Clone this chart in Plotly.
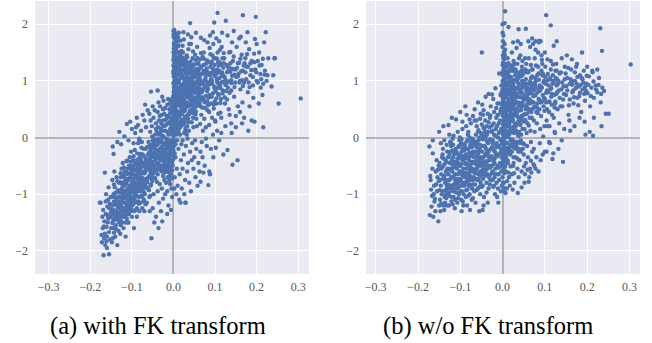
import plotly.graph_objects as go

# Scatter samples, stored as (x * 1000, y * 100) integer pairs.
# Panel (a): with FK transform
fk_wall = [(0,12),(1,35),(2,58),(0,74),(3,91),(1,108),(4,121),(2,136),(0,150),(5,163),(1,177),(3,186),(2,-8),(0,-22),(6,5),(1,22),(4,44),(0,63),(7,82),(2,99),(0,117),(3,129),(5,142),(1,157),(8,170),(0,181),(2,47),(4,70),(1,88),(6,103),(0,127),(3,145),(9,60),(2,18),(5,31),(0,41),(3,53),(7,66),(1,79),(4,95),(0,113),(6,133),(2,148),(8,118),(1,-15),(10,40),(3,-28),(0,96),(5,112),(2,123),(7,139),(1,166),(4,155),(9,88),(0,29),(6,50),(3,72),(2,84),(8,27),(0,55),(5,77),(1,140),(7,101),(3,160),(10,115),(0,188),(4,176),(2,190),(6,158),(1,52),(9,132),(3,10),(8,74),(0,-3),(5,-12),(2,66),(7,34),(4,24),(1,4),(6,121),(3,107),(0,137),(5,93),(2,111),(8,152),(4,182),(1,126),(7,57),(10,97),(3,38)]
fk_core = [(12,45),(15,72),(11,98),(18,20),(14,115),(17,61),(13,133),(19,84),(16,5),(12,150),(15,38),(18,106),(11,126),(14,57),(20,92),(13,14),(17,143),(19,31),(16,78),(12,163),(15,120),(18,69),(11,177),(14,102),(20,48),(17,89),(13,67),(16,131),(19,112),(12,26),
    (22,55),(25,81),(21,110),(28,36),(24,95),(27,64),(23,128),(29,15),(26,47),(22,140),(25,23),(28,99),(21,74),(24,118),(30,58),(27,137),(23,88),(26,8),(29,76),(22,162),(25,104),(28,125),(21,42),(24,69),(30,113),(27,28),(23,150),(26,93),(29,52),(22,-5),(25,173),(28,82),(24,186),(30,135),
    (32,62),(35,90),(31,117),(38,41),(34,75),(37,103),(33,20),(39,128),(36,55),(32,145),(35,33),(38,85),(31,96),(34,131),(40,67),(37,12),(33,108),(36,156),(39,47),(32,80),(35,122),(38,165),(31,38),(34,100),(40,115),(37,72),(33,142),(36,27),(39,92),(35,182),(32,5),
    (42,78),(45,56),(41,103),(48,91),(44,124),(47,35),(43,66),(49,116),(46,140),(42,48),(45,98),(48,18),(41,134),(44,85),(50,60),(47,152),(43,112),(46,72),(49,43),(42,165),(45,126),(48,106),(44,27),(50,95),(47,83),(43,177),(46,118),(41,58),
    (52,88),(55,70),(51,112),(58,101),(54,46),(57,130),(53,64),(59,83),(56,121),(52,146),(55,33),(58,57),(51,94),(54,108),(60,76),(57,160),(53,137),(56,20),(59,117),(52,68),(55,98),(58,140),(54,185),(56,80),(60,104)]
fk_dense = [(3,17),(6,39),(9,63),(4,87),(7,109),(2,131),(5,149),(8,21),(11,43),(14,67),(17,93),(20,119),(23,141),(26,33),(29,57),(1,81),(4,103),(7,127),(10,15),(13,37),(16,59),(19,85),(22,107),(25,133),(28,11),(3,49),(6,71),(9,97),(12,123),(15,147),(18,27),(21,51),(24,77),(27,101),(30,129),(2,7),(5,57),(8,83),(11,111),(14,139),(17,19),(20,41),(23,65),(26,89),(29,117),(1,143),(4,13),(7,45),(10,73),(13,99),(16,121),(19,153),(22,31),(25,61),(28,87),(6,117),(9,141),(12,9),(15,25),(18,53),(21,79),(24,105),(27,121),(3,135),(11,161),(16,171),(5,170),(8,180),(2,161),(13,185),(20,135),(24,53),(27,47),(1,69),(9,33),(18,127),(6,89),(14,79),(22,91),(29,97),
    (33,35),(37,59),(41,83),(45,107),(49,129),(53,41),(57,63),(61,87),(65,111),(69,53),(31,71),(35,105),(39,121),(43,45),(47,69),(51,79),(55,117),(59,95),(63,61),(67,125),(32,93),(36,41),(40,99),(44,63),(48,127),(52,53),(56,99),(60,131),(64,81),(68,99),(34,113),(38,71),(42,93),(46,49),(50,109),(54,87),(58,73),(62,109),(66,67),(70,83),(36,85),(44,101),(52,119),(60,57),(38,131),(46,89),(54,63),(62,75),(42,121),(58,113),
    (-3,-13),(-7,7),(-11,-31),(-15,-3),(-19,-23),(-23,-43),(-27,3),(-31,-27),(-35,-53),(-39,-13),(-43,-33),(-47,-3),(-51,-43),(-55,-23),(-59,-47),(-5,-51),(-9,-27),(-13,-47),(-17,-9),(-21,-33),(-25,-57),(-29,-17),(-33,-37),(-37,-3),(-41,-47),(-45,-31),(-49,-53),(-53,-13),(-57,-33),(-1,-39),(-8,43),(-14,25),(-20,31),(-26,21),(-32,9),(-4,11),(-12,-61),(-24,-21),(-36,-23),(-46,-15),
    (-129,-113),(-125,-97),(-121,-137),(-117,-77),(-113,-93),(-109,-129),(-105,-63),(-101,-97),(-97,-117),(-93,-67),(-89,-103),(-85,-53),(-81,-93),(-77,-61),(-73,-83),(-69,-47),(-65,-73),(-61,-51),(-57,-67),(-53,-57),(-127,-147),(-123,-83),(-119,-107),(-115,-123),(-111,-73),(-107,-101),(-103,-115),(-99,-73),(-95,-97),(-91,-57),(-87,-85),(-83,-117),(-79,-47),(-75,-77),(-71,-97),(-67,-37),(-63,-79),(-59,-93),(-55,-61),(-51,-77),(-131,-97),(-135,-121),(-139,-141),(-143,-113),(-147,-151),(-151,-133),(-155,-167),(-159,-137),(-163,-113),(-167,-157),(-126,-117),(-118,-131),(-110,-55),(-102,-87),(-94,-107),(-86,-73),(-78,-103),(-70,-63),(-62,-43),(-54,-83),(-122,-103),(-114,-61),(-106,-97),(-98,-53),(-90,-113),(-82,-63),(-74,-45),(-66,-87),(-58,-27),(-50,-47),(-128,-79),(-120,-67),(-112,-143),(-104,-109),(-96,-33),(-88,-65),(-80,-43),(-72,-113),(-64,-17),(-56,-103),
    (73,67),(77,89),(81,111),(85,133),(89,73),(93,95),(97,117),(101,81),(105,103),(109,127),(113,87),(117,109),(121,131),(125,93),(129,115),(133,99),(137,131),(141,109),(145,143),(149,97),(153,123),(157,113),(161,139),(165,101),(169,127),(173,115),(177,147),(181,97),(185,131),(189,119),(75,113),(83,57),(91,131),(99,63),(107,77),(115,97),(123,71),(131,125),(139,83),(147,111),
    (63,83),(67,97),(71,71),(75,101),(79,117),(83,93),(87,75),(91,103),(95,121),(99,87),(103,69),(107,115),(111,91),(115,113),(119,83),(123,107),(127,95),(131,117),(135,79),(139,101),(143,121),(147,89),(151,107),(155,131),(159,97),(163,117),(167,91),(171,131),(175,103),(179,125),(183,89),(187,119),(191,107),(195,133),(199,115),(203,97),(207,127),(211,103),(215,139),(219,111),(65,125),(73,139),(81,63),(89,147),(97,51),(105,139),(113,61),(121,149),(129,67),(137,151),
    (-161,-183),(-157,-143),(-153,-117),(-149,-127),(-145,-147),(-141,-105),(-137,-137),(-133,-93),(-129,-147),(-125,-123),(-121,-95),(-117,-139),(-113,-81),(-109,-113),(-105,-93),(-101,-127),(-97,-79),(-93,-103),(-89,-71),(-85,-113),(-81,-73),(-77,-93),(-73,-51),(-69,-83),(-65,-57),(-61,-71),(-57,-39),(-53,-73),(-49,-29),(-45,-57),(-139,-117),(-131,-133),(-123,-113),(-115,-103),(-107,-123),(-99,-89),(-91,-81),(-83,-57),(-75,-63),(-67,-53),(-143,-83),(-135,-77),(-127,-63),(-119,-53),(-111,-41),(-103,-43),(-95,-49),(-87,-39),(-79,-29),(-71,-33)]
fk_right = [(62,92),(65,55),(61,120),(68,80),(64,138),(67,40),(63,104),(69,67),(66,149),(70,95),(72,118),(75,62),(71,86),(78,130),(74,33),(77,105),(73,150),(79,74),(76,92),(80,122),(82,48),(85,97),(81,136),(88,110),(84,70),(87,158),(83,86),(89,125),(86,22),(90,102),(92,134),(95,78),(91,114),(98,90),(94,145),(97,58),(93,100),(99,128),(96,165),(100,108),(102,85),(105,120),(101,140),(108,96),(104,60),(107,132),(103,112),(109,75),(106,150),(110,118),(112,92),(115,128),(111,105),(118,140),(114,68),(117,115),(113,44),(119,98),(116,160),(120,123),(64,24),(71,12),(78,18),(86,45),(93,35),(101,28),(108,42),(115,8),(66,176),(74,172),(82,168),(88,180),(95,186),(103,175),(110,170),(117,185),(63,70),(68,112),(73,128),(79,99),(84,115),(90,60),(97,140),(104,88),(111,133),(118,78),(70,142),(76,52),(81,82),(87,94),(92,72),(99,110),(105,98),(112,155),(119,110),
    (122,140),(125,102),(128,128),(131,88),(134,150),(137,116),(140,96),(143,135),(146,72),(149,120),(152,160),(155,108),(158,132),(161,85),(164,146),(167,118),(170,97),(173,140),(176,125),(179,80),(182,156),(185,110),(188,135),(191,92),(194,148),(197,120),(200,100),(203,135),(206,150),(209,112),(212,128),(216,95),(220,118),(224,100),(228,140),(124,60),(133,50),(141,168),(150,38),(158,175),(166,62),(174,168),(183,55),(192,70),(200,165),(210,88),(218,168),(226,110),(130,180),(145,188),(162,178),(178,186),(196,174),(236,90),(243,140),(240,110),(214,75),(205,60),(188,30),(170,35),(155,55),(139,25),(127,82),(222,186),
    (106,220),(167,216),(198,213),(98,203),(40,202),(126,206),(306,69),(253,60),(244,140),(216,18),(154,-40),(138,122),(160,100),
    (95,5),(105,12),(125,20),(140,8),(150,18),(165,25),(180,12),(195,28),(100,30),(115,35),(135,40),(160,45)]
fk_mid = [(-5,-20),(-12,5),(-3,-45),(-18,-30),(-8,15),(-25,-10),(-2,30),(-15,-55),(-30,-40),(-6,-65),(-22,20),(-10,-35),(-35,5),(-28,-60),(-4,-5),(-40,-25),(-16,38),(-45,-50),(-9,-15),(-50,-5),(-20,-48),(-32,-20),(-14,-70),(-55,-35),(-26,12),(-38,-65),(-7,8),(-48,-18),(-19,-2),(-42,15),(-3,-58),(-58,-55),(-24,-35),(-11,-52),(-36,-45),(-52,-28),(-29,25),(-17,-18),(-44,-40),(-2,-32),(-33,-8),(-56,10),(-21,-62),(-13,-28),(-47,-62),(-6,22),(-39,-32),(-27,-50),(-53,-45),(-10,-8),(-31,-58),(-23,-25),(-58,-15),(-15,10),(-41,-5),(-4,-42),(-49,-35),(-35,-28),(-8,-55),(-25,-68),(-18,-40),(-44,-12),(-1,-25),(-30,-2),(-54,-60),(-12,-45),(-37,18),(-20,-12),(-46,-48),(-9,-68),(-28,-30),(-51,2),(-16,-60),(-33,-52),(-5,-10),(-42,-38),(-24,2),(-57,-40),(-14,-38),(-39,-55),(-7,-30),(-27,-16),(-50,-68),(-22,-42),(-3,5),(-45,-25),(-11,-20),(-34,-35),(-19,-50),(-55,-18),(-30,-50),(-8,-40),(-48,-8),(-26,-28),(-13,-5),(-41,-58),(-2,-50),(-36,-10),(-17,-32),(-60,-30),(-23,-55),(-6,-22),(-43,-20),(-31,-38),(-15,-12),(-52,-52),(-10,-60),(-28,-8),
    (-5,45),(-12,38),(-3,62),(-20,52),(-8,28),(-28,40),(-15,58),(-35,30),(-2,70),(-24,65),(-42,25),(-10,50),(-32,55),(-18,22),(-48,35),(-6,35),(-26,30),(-38,45),(-13,68),(-52,20),(-4,55),(-22,42),(-45,48),(-30,15),(-9,60),(-55,30),(-16,33),(-36,62),(-1,48),(-40,10),(-58,42),(-27,72),(-11,25),(-33,38),(-7,66),(-50,55),(-19,12),(-44,5),(-3,18),(-25,50),
    (-54,81),(-38,83),(-112,24),(-146,-16),(-144,-29),(-62,48),(-70,30),(-78,12),(-85,22),(-92,8),(-100,15),(-108,-5),(-118,2),(-126,-12),(-135,-8),(-66,18),(-74,40),(-82,-2),(-88,35),(-96,-10),(-104,28),(-68,58),(-76,-8),(-90,18),(-130,10),
    (5,-35),(12,-20),(8,-55),(18,-40),(3,-70),(15,-65),(25,-30),(10,-85),(22,-55),(30,-15),(7,-100),(28,-75),(35,-45),(20,-90),(40,-25),(14,-110),(33,-60),(45,-10),(26,-100),(50,-35),(2,-90),(38,-80),(55,-20),(17,-115),(48,-55),(60,-45),(29,-115),(65,-25),(53,-70),(70,-35),(42,-95),(75,-50),(58,-85),(80,-15),(63,-60),(86,-60),(88,-65),(84,-84),(44,-40),(9,-5),(19,-12),(34,-2),(52,-5),(68,-8),(78,-2),(90,-20),(96,-35),(102,-18),(110,-5),(120,-30),(130,-22),(142,-48),(65,-78),(72,-62),(29,-115)]
fk_low = [(-168,-208),(-155,-206),(-172,-185),(-160,-195),(-165,-170),(-152,-180),(-170,-160),(-158,-150),(-163,-135),(-175,-115),(-154,-125),(-166,-148),(-160,-175),(-150,-160),(-169,-128),(-157,-110),(-162,-100),(-153,-140),(-171,-140),(-164,-190),(-156,-88),(-151,-105),(-177,-115),(-167,-178),(-159,-122),(-165,-62),(-173,-172),(-161,-158),
    (-148,-185),(-140,-175),(-135,-190),(-145,-160),(-132,-165),(-142,-145),(-138,-130),(-146,-120),(-131,-150),(-144,-100),(-136,-110),(-149,-140),(-141,-88),(-133,-125),(-147,-75),(-139,-155),(-134,-95),(-143,-168),(-137,-70),(-130,-135),(-145,-135),(-140,-115),(-132,-105),(-148,-105),(-136,-145),(-142,-60),(-131,-80),(-146,-178),(-138,-162),(-134,-118),(-144,-128),(-140,-98),(-133,-142),
    (-128,-170),(-120,-160),(-115,-150),(-125,-140),(-112,-135),(-122,-125),(-118,-115),(-126,-105),(-111,-120),(-124,-90),(-116,-95),(-129,-120),(-121,-80),(-113,-105),(-127,-70),(-119,-140),(-114,-78),(-123,-150),(-117,-60),(-110,-90),(-125,-55),(-120,-100),(-112,-65),(-128,-95),(-116,-130),(-122,-45),(-111,-150),(-126,-130),(-118,-85),(-114,-115),(-124,-112),(-120,-130),(-113,-42),(-127,-155),(-110,-110),(-119,-70),(-115,-175),(-123,-65),
    (-108,-150),(-100,-140),(-95,-130),(-105,-120),(-92,-115),(-102,-105),(-98,-95),(-106,-85),(-91,-100),(-104,-70),(-96,-75),(-109,-100),(-101,-60),(-93,-85),(-107,-50),(-99,-120),(-94,-58),(-103,-130),(-97,-40),(-90,-70),(-105,-35),(-100,-80),(-92,-45),(-108,-75),(-96,-110),(-102,-25),(-91,-128),(-106,-110),(-98,-65),(-94,-95),(-104,-92),(-100,-108),(-93,-22),(-107,-135),(-90,-90),(-99,-50),(-95,-160),(-103,-55),
    (-88,-125),(-80,-115),(-75,-105),(-85,-95),(-72,-90),(-82,-80),(-78,-70),(-86,-60),(-71,-75),(-84,-45),(-76,-50),(-89,-80),(-81,-35),(-73,-60),(-87,-28),(-79,-95),(-74,-30),(-83,-105),(-77,-18),(-70,-45),(-85,-10),(-80,-55),(-72,-20),(-88,-50),(-76,-85),(-82,-5),(-71,-110),(-86,-88),(-78,-40),(-74,-72),(-84,-70),(-80,-85),(-68,-62),(-65,-40),(-62,-90),(-66,-20),(-63,-55),(-69,-100),(-64,-75),(-61,-30),(-67,-118),(-60,-8),(-88,-140),(-82,-130),(-75,-125),(-70,-130),(-64,-115),
    (-55,-85),(-48,-100),(-40,-78),(-35,-115),(-28,-90),(-22,-75),(-15,-95),(-8,-82),(-3,-105),(-50,-125),(-44,-72),(-38,-95),(-30,-130),(-25,-108),(-18,-80),(-12,-120),(-5,-90),(-58,-105),(-42,-140),(-33,-82),(-20,-100),(-10,-76),(-2,-72),(-53,-178),(-46,-150),(-36,-160),(-27,-148),(-57,-130),(-15,-135),(-6,-128)]

# Panel (b): w/o FK transform
nofk_wall = [(0,15),(1,38),(2,-12),(0,60),(3,82),(1,-35),(4,105),(2,25),(0,128),(5,48),(1,-50),(3,70),(2,140),(0,-20),(6,5),(1,92),(4,-42),(0,115),(7,32),(2,55),(0,-58),(3,10),(5,78),(1,132),(8,-25),(0,42),(2,99),(4,-8),(1,65),(6,118),(0,-45),(3,150),(9,20),(2,-30),(5,88),(0,160),(3,-15),(7,58),(1,5),(4,35),(0,85),(6,-38),(2,112),(8,45),(1,-5),(10,75),(3,-55),(0,100),(5,125),(2,68),(7,-10),(1,170),(4,138),(9,92),(0,-70),(6,28),(3,48),(2,8),(8,108),(0,185),(5,-28),(1,145),(7,85),(3,120),(10,-20),(0,200),(4,62),(2,180),(6,155),(1,22),(9,60),(3,95),(8,-40),(0,72),(5,12),(2,-48),(7,130),(4,18),(1,-80),(6,98),(3,-95),(0,55),(5,165),(2,85),(8,25),(4,148),(1,110),(7,0),(10,40),(3,30)]
nofk_core = [(12,30),(15,55),(11,-10),(18,75),(14,92),(17,18),(13,110),(19,42),(16,-28),(12,125),(15,5),(18,62),(11,85),(14,-18),(20,35),(13,68),(17,98),(19,-5),(16,48),(12,140),(15,80),(18,12),(11,55),(14,115),(20,88),(17,-22),(13,28),(16,105),(19,65),(12,-40),
    (22,40),(25,65),(21,12),(28,85),(24,-15),(27,50),(23,100),(29,25),(26,75),(22,118),(25,-5),(28,58),(21,90),(24,30),(30,110),(27,8),(23,70),(26,135),(29,45),(22,-25),(25,95),(28,15),(21,60),(24,125),(30,-10),(27,80),(23,38),(26,-35),(29,102),(22,150),(25,168),(28,130),
    (32,50),(35,72),(31,20),(38,95),(34,-8),(37,35),(33,115),(39,60),(36,5),(32,88),(35,130),(31,45),(38,-20),(34,78),(40,28),(37,105),(33,-15),(36,62),(39,140),(32,12),(35,98),(38,55),(31,120),(34,40),(40,85),(37,-25),(33,158),(36,170),(39,10),
    (42,60),(45,38),(41,85),(48,70),(44,108),(47,15),(43,48),(49,95),(46,125),(42,22),(45,80),(48,-10),(41,115),(44,55),(50,40),(47,135),(43,-5),(46,100),(49,28),(42,145),(45,118),(48,88),(44,5),(50,72),(47,62),(43,165),(46,-20),
    (52,75),(55,50),(51,100),(58,88),(54,30),(57,115),(53,55),(59,70),(56,130),(52,15),(55,95),(58,42),(51,-12),(54,120),(60,65),(57,8),(53,140),(56,82),(59,25),(62,95),(65,60),(61,115),(68,78),(64,35),(67,128),(63,50),(69,90),(66,12),(70,108),(62,140),(65,160),(68,45),(64,85),(67,-8),(61,170),(69,120)]
nofk_dense = [(3,3),(6,27),(9,51),(4,73),(7,97),(2,119),(5,-17),(8,13),(11,37),(14,61),(17,83),(20,107),(23,-7),(26,19),(29,43),(1,67),(4,91),(7,113),(10,-23),(13,1),(16,23),(19,47),(22,71),(25,93),(28,117),(3,-29),(6,9),(9,33),(12,57),(15,79),(18,103),(21,127),(24,-13),(27,17),(30,39),(2,63),(5,87),(8,-33),(11,109),(14,131),(17,7),(20,29),(23,53),(26,87),(29,69),(1,-39),(4,47),(7,71),(10,95),(13,-27),(16,119),(19,11),(22,33),(25,57),(28,-19),(6,-51),(9,79),(12,-45),(15,103),(18,35),(21,-3),(24,79),(27,101),(3,125),(11,9),(16,59),(5,145),(8,61),(2,97),(13,81),(20,51),(24,33),(27,59),(1,83),(9,-9),(18,-13),(6,105),(14,21),(22,123),(29,85),
    (33,23),(37,47),(41,71),(45,93),(49,117),(53,31),(57,53),(61,77),(65,99),(69,35),(31,63),(35,87),(39,109),(43,33),(47,57),(51,67),(55,103),(59,83),(63,47),(67,105),(32,77),(36,27),(40,93),(44,49),(48,111),(52,41),(56,89),(60,117),(64,67),(68,87),(72,51),(76,75),(34,101),(38,3),(42,79),(46,37),(50,95),(54,73),(58,59),(62,21),(66,79),(70,63),(74,83),(78,99),(46,71),
    (-137,-67),(-133,-43),(-129,-83),(-125,-27),(-121,-57),(-117,-13),(-113,-43),(-109,-73),(-105,-17),(-101,-47),(-97,-3),(-93,-33),(-89,-63),(-85,-7),(-81,-37),(-77,-57),(-73,-17),(-69,-43),(-65,-63),(-61,-33),(-57,-47),(-53,-13),(-49,-37),(-45,-63),(-41,-17),(-37,-43),(-33,-7),(-29,-53),(-25,-17),(-21,-63),(-135,-93),(-131,-57),(-127,-33),(-123,-73),(-119,-47),(-115,-83),(-111,-27),(-107,-53),(-103,-87),(-99,-37),(-95,-67),(-91,-23),(-87,-47),(-83,-77),(-79,-27),(-75,-43),(-71,-83),(-67,-13),(-63,-47),(-59,-73),(-55,-23),(-51,-67),(-47,-3),(-43,-33),(-39,-57),(-35,-23),(-31,-67),(-27,-33),(-23,-5),(-19,-37),(-126,-103),(-118,-93),(-110,-97),(-102,-63),(-94,-113),(-86,-93),(-78,-67),(-70,-107),(-62,-93),(-54,-87),(-46,-73),(-38,-97),(-30,-83),(-22,-87),(-140,-37),(-132,-13),(-116,3),(-100,-13),(-84,-47),(-68,-27),
    (-57,13),(-49,23),(-41,9),(-33,27),(-25,21),(-17,3),(-9,25),(-3,-3),(-53,33),(-45,17),(-37,-7),(-29,39),(-21,-23),(-13,-17),(-5,45),
    (83,43),(87,67),(91,89),(95,113),(99,47),(103,79),(107,101),(111,63),(115,87),(119,129),(123,53),(127,77),(131,95),(135,113),(139,85),(143,67),(147,103),(151,91),(155,123),(159,67),(163,99),(167,83),(171,115),(175,95),(179,57),(183,79),(187,105),(191,97),(195,89),(199,109),
    (4,-63),(11,-77),(19,-51),(27,-63),(35,-37),(43,-25),(51,-51),(59,-57),(67,-41),(73,-47),
    (-161,-113),(-157,-83),(-153,-57),(-149,-93),(-145,-117),(-141,-73),(-137,-47),(-133,-107),(-129,-57),(-125,-87),(-121,-113),(-117,-53),(-113,-27),(-109,-83),(-105,-107),(-101,-73),(-97,-47),(-93,-13),(-89,-37),(-85,-77),(-81,-103),(-77,-33),(-73,-7),(-69,-57),(-65,-83),(-61,-17),(-57,-27),(-53,-67),(-49,-87),(-45,-43),(-41,-67),(-37,-27),(-33,-53),(-29,-3),(-25,-63),(-21,-47),(-17,-13),(-13,-33),(-9,-53),(-5,-27),(-167,-103),(-151,-77),(-143,-53),(-127,-97),(-119,-23),(-103,-33),(-87,-63),(-79,-83),(-63,-73),(-47,-57),
    (73,73),(77,93),(81,53),(85,113),(89,83),(93,63),(97,97),(101,107),(105,83),(109,63),(113,103),(117,77),(121,97),(125,63),(129,103),(133,83),(137,55),(141,97),(145,77),(149,113),(153,83),(157,57),(161,103),(165,93),(169,71),(173,87),(177,107),(181,73),(185,93),(189,103),(193,77),(197,83),(203,93),(209,73),(215,99),(221,85),(227,93),(233,77),(79,127),(93,137)]
nofk_right = [(72,95),(75,55),(71,120),(78,75),(74,30),(77,105),(73,62),(79,88),(76,140),(80,45),(82,110),(85,68),(81,25),(88,92),(84,125),(87,50),(83,80),(89,15),(86,102),(90,62),(92,118),(95,75),(91,38),(98,100),(94,130),(97,55),(93,88),(99,20),(96,110),(100,68),(102,95),(105,50),(101,125),(108,80),(104,30),(107,112),(103,62),(109,92),(106,138),(110,45),(112,105),(115,72),(111,20),(118,95),(114,120),(117,40),(113,85),(119,110),(116,58),(120,100),(122,75),(125,118),(121,35),(128,92),(124,60),(127,130),(123,10),(129,80),(126,105),(130,50),(74,-20),(88,-10),(96,2),(110,-8),(124,8),(78,155),(86,168),(90,170),(84,150),(72,165),(100,150),(92,145),(76,10),(82,60),(94,110),(106,20),(114,135),(128,118),(86,85),(98,70),
    (132,100),(135,70),(138,115),(141,55),(144,90),(147,125),(150,75),(153,105),(156,40),(159,95),(162,120),(165,80),(168,60),(171,100),(174,125),(177,70),(180,90),(183,110),(186,45),(189,85),(192,118),(195,65),(198,95),(201,78),(204,108),(207,55),(210,88),(213,115),(216,70),(220,92),(224,80),(228,105),(232,62),(236,88),(134,25),(146,15),(158,30),(170,20),(182,35),(194,28),(206,10),(140,140),(152,145),(164,138),(176,130),(188,150),(200,125),(212,118),(224,120),(240,82),(244,42),(234,20),(196,5),(160,12),(216,35),
    (6,223),(5,202),(14,195),(103,216),(114,198),(231,193),(235,153),(303,129),(251,42),(214,3),(38,191),(55,192),(87,171),(78,170),(-49,150),(143,-43),(104,-25),(121,162),(128,170),(70,175),
    (5,-25),(12,-45),(8,-60),(18,-30),(3,-80),(15,-70),(25,-50),(10,-90),(22,-65),(30,-35),(7,-98),(28,-80),(35,-55),(20,-15),(40,-40),(14,-62),(33,-20),(45,-60),(26,-45),(50,-30),(2,-88),(38,-70),(55,-45),(17,-85),(48,-20),(60,-35),(29,-10),(65,-55),(53,-65),(70,-25),(42,-10),(75,-50),(58,-15),(80,-35),(63,-70),(85,-60),(90,-40),(68,-62),(78,-55),(95,-30),(45,-88),(52,-80),(62,-78),(36,-98),(24,-92),(100,-25),(112,-10),(118,-38),(132,-20),(140,-5),(120,-28)]
nofk_low = [(-172,-137),(-168,-122),(-164,-140),(-160,-108),(-155,-95),(-170,-75),(-162,-85),(-158,-60),(-152,-148),(-166,-55),(-173,-16),(-150,-120),(-156,-40),(-163,-100),(-169,-92),(-154,-70),(-159,-130),(-171,-68),(-165,-28),(-151,-50),
    (-148,-110),(-142,-95),(-136,-80),(-145,-65),(-132,-120),(-140,-50),(-138,-128),(-146,-85),(-134,-60),(-143,-35),(-131,-90),(-149,-45),(-137,-105),(-141,-20),(-133,-75),(-147,-130),(-135,-40),(-144,-100),(-139,-70),(-130,-55),(-146,-10),(-136,-115),(-142,-30),(-132,-85),(-148,-75),(-138,-5),(-134,-100),(-140,-120),(-131,-25),(-145,-55),
    (-128,-100),(-122,-85),(-116,-70),(-125,-55),(-112,-110),(-120,-40),(-118,-118),(-126,-75),(-114,-50),(-123,-25),(-111,-80),(-129,-35),(-117,-95),(-121,-10),(-113,-65),(-127,-120),(-115,-30),(-124,-90),(-119,-60),(-110,-45),(-126,5),(-116,-105),(-122,-15),(-112,-75),(-128,-65),(-118,-2),(-114,-90),(-120,-105),(-111,-20),(-125,-45),(-121,-70),(-117,-35),(-113,-125),(-124,-8),(-119,-85),
    (-108,-90),(-102,-75),(-96,-60),(-105,-45),(-92,-100),(-100,-30),(-98,-110),(-106,-65),(-94,-40),(-103,-15),(-91,-70),(-109,-25),(-97,-85),(-101,0),(-93,-55),(-107,-115),(-95,-20),(-104,-80),(-99,-50),(-90,-35),(-106,10),(-96,-95),(-102,-5),(-92,-65),(-108,-55),(-98,-10),(-94,-80),(-100,-95),(-91,-12),(-105,-30),(-101,-60),(-97,-25),(-93,-120),(-104,-48),(-99,-75),(-95,15),(-103,-100),(-90,-85),(-107,-38),(-97,-130),
    (-88,-80),(-82,-65),(-76,-50),(-85,-35),(-72,-90),(-80,-20),(-78,-100),(-86,-55),(-74,-30),(-83,-5),(-71,-60),(-89,-15),(-77,-75),(-81,10),(-73,-45),(-87,-105),(-75,-10),(-84,-70),(-79,-40),(-70,-25),(-86,20),(-76,-85),(-82,5),(-72,-55),(-88,-45),(-78,0),(-74,-70),(-80,-85),(-71,-2),(-85,-20),(-81,-50),(-77,-15),(-73,-110),(-84,-120),(-79,-62),(-75,25),(-83,-92),(-70,-75),(-87,-30),(-77,-128),
    (-68,-70),(-62,-55),(-56,-40),(-65,-25),(-52,-80),(-60,-10),(-58,-90),(-66,-45),(-54,-20),(-63,5),(-51,-50),(-69,-5),(-57,-65),(-61,20),(-53,-35),(-67,-95),(-55,0),(-64,-60),(-59,-30),(-50,-15),(-66,30),(-56,-75),(-62,-12),(-52,-45),(-68,-35),(-58,10),(-54,-60),(-60,-75),(-51,8),(-65,-8),(-61,-40),(-57,-5),(-53,-100),(-64,-115),(-59,-52),(-55,-130),(-63,-25),
    (-48,-60),(-42,-45),(-36,-30),(-45,-15),(-32,-70),(-40,0),(-38,-80),(-46,-35),(-34,-10),(-43,15),(-31,-40),(-49,5),(-37,-55),(-41,30),(-33,-25),(-47,-85),(-35,10),(-44,-50),(-39,-20),(-30,-5),(-46,40),(-36,-65),(-42,-2),(-32,-35),(-48,-25),(-38,20),(-34,-50),(-40,-65),(-31,18),(-45,2),(-41,-30),(-37,5),(-33,-90),(-44,-105),(-39,-42),(-35,-115),(-43,-15),(-28,-20),(-26,-50),(-27,10),(-29,-75),(-25,-35),(-47,-128),(-45,-120),
    (-22,-40),(-18,-25),(-14,-10),(-20,5),(-12,-50),(-16,15),(-24,-60),(-10,-30),(-21,25),(-8,-15),(-19,-70),(-15,35),(-6,-45),(-23,-10),(-11,0),(-17,-55),(-4,-20),(-13,20),(-9,-65),(-2,-35),(-20,-85),(-7,10),(-14,-80),(-3,-60),(-24,12),(-5,-5),(-18,-100),(-11,-90),(-1,-10),(-16,-30),(-12,40),(-22,-20),(-8,-75),(-3,15),(-19,-45),(-6,30),(-15,-65),(-10,-115),(-2,-85),(-13,-105),(-23,-75),(-4,-95),(-9,8),(-1,-50),
    (-58,62),(-33,77),(-25,76),(-17,87),(-8,113),(-45,48),(-40,72),(-52,42),(-28,55),(-20,45),(-12,60),(-5,75),(-35,42),(-48,58),(-15,52),(-3,92),(-22,68),(-10,40),(-30,35),(-62,30),(-70,38),(-78,32),(-85,40),(-95,28),(-110,32),(-128,22),(-165,-5),(-150,10),(-140,20),(-120,35),(-100,45),(-88,55),(-66,50),(-4,50),(-7,60),(-2,80)]

panels = [
    ("(a) with FK transform", fk_wall + fk_core + fk_dense + fk_right + fk_mid + fk_low, [-0.333, 0.326], 158),
    ("(b) w/o FK transform", nofk_wall + nofk_core + nofk_dense + nofk_right + nofk_low, [-0.323, 0.325], 488),
]

x_ticks = [-0.3, -0.2, -0.1, 0.0, 0.1, 0.2, 0.3]
x_tick_text = ["\u22120.3", "\u22120.2", "\u22120.1", "0.0", "0.1", "0.2", "0.3"]
y_ticks = [-2, -1, 0, 1, 2]
y_tick_text = ["\u22122", "\u22121", "0", "1", "2"]

W, H = 652, 343
x_domains = [[35 / W, 309 / W], [366 / W, 640 / W]]
y_domain = [1 - 274 / H, 1 - 1 / H]

BG = "#EAEAF2"
POINT = "#4C72B0"
tick_font = dict(family="Liberation Serif", size=12, color="#555555")
caption_font = dict(family="Liberation Serif", size=24.5, color="black")

fig = go.Figure()
annotations = []
for i, (caption, pts, xr, cap_x) in enumerate(panels):
    sfx = "" if i == 0 else str(i + 1)
    fig.add_trace(go.Scatter(
        x=[p[0] / 1000 for p in pts],
        y=[p[1] / 100 for p in pts],
        mode="markers",
        marker=dict(color=POINT, size=4.4, line=dict(width=0)),
        xaxis="x" + sfx, yaxis="y" + sfx,
        showlegend=False, hoverinfo="skip",
    ))
    axis_common = dict(
        showgrid=True, gridcolor="white", gridwidth=1.3,
        zeroline=True, zerolinecolor="#b4b4b4", zerolinewidth=1.6,
        showline=False, ticks="", tickfont=tick_font, automargin=False,
    )
    fig.layout["xaxis" + sfx] = dict(
        domain=x_domains[i], range=xr, anchor="y" + sfx,
        tickvals=x_ticks, ticktext=x_tick_text, ticklabelstandoff=4,
        **axis_common)
    fig.layout["yaxis" + sfx] = dict(
        domain=y_domain, range=[-2.41, 2.41], anchor="x" + sfx,
        tickvals=y_ticks, ticktext=y_tick_text, ticklabelstandoff=6,
        **axis_common)
    annotations.append(dict(
        text=caption, x=cap_x / W, y=1 - 326 / H, xref="paper", yref="paper",
        xanchor="center", yanchor="middle", showarrow=False,
        font=caption_font,
    ))

fig.update_layout(
    width=W, height=H, margin=dict(l=0, r=0, t=0, b=0),
    paper_bgcolor="white", plot_bgcolor=BG,
    annotations=annotations,
)

fig.write_html("out.html")
